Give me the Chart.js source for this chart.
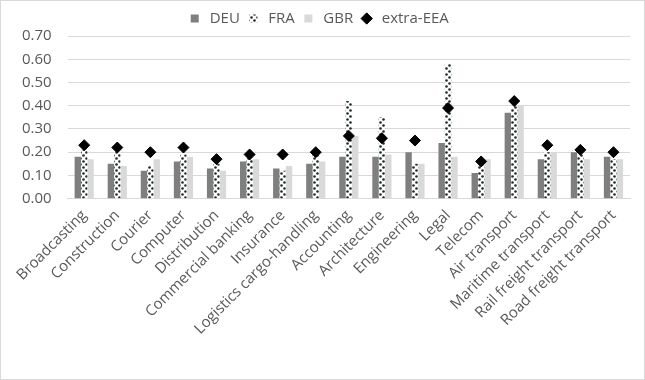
<!DOCTYPE html>
<html>
<head>
<meta charset="utf-8">
<script src="https://cdn.jsdelivr.net/npm/chart.js@4"></script>
<style>
  html, body { margin: 0; padding: 0; background: #fff; }
  #wrap { width: 645px; height: 380px; box-sizing: border-box; border: 1px solid #d9d9d9; }
  canvas { display: block; }
</style>
</head>
<body>
<div id="wrap"><canvas id="chart" width="643" height="378"></canvas></div>
<script>
const categories = ['Broadcasting', 'Construction', 'Courier', 'Computer', 'Distribution', 'Commercial banking',
    'Insurance', 'Logistics cargo-handling', 'Accounting', 'Architecture', 'Engineering', 'Legal', 'Telecom',
    'Air transport', 'Maritime transport', 'Rail freight transport', 'Road freight transport'];

const deu = [0.18, 0.15, 0.12, 0.16, 0.13, 0.16, 0.13, 0.15, 0.18, 0.18, 0.20, 0.24, 0.11, 0.37, 0.17, 0.20, 0.18];
const fra = [0.21, 0.20, 0.14, 0.19, 0.15, 0.18, 0.12, 0.19, 0.42, 0.35, 0.15, 0.58, 0.15, 0.40, 0.20, 0.19, 0.17];
const gbr = [0.17, 0.14, 0.17, 0.18, 0.12, 0.17, 0.14, 0.16, 0.27, 0.19, 0.15, 0.18, 0.17, 0.40, 0.20, 0.17, 0.17];
const extraEea = [0.23, 0.22, 0.20, 0.22, 0.17, 0.19, 0.19, 0.20, 0.27, 0.26, 0.25, 0.39, 0.16, 0.42, 0.23, 0.21, 0.20];

const yTicks = [0, 0.1, 0.2, 0.3, 0.4, 0.5, 0.6, 0.7];

// dotted fill for FRA
function dotPattern() {
    let c = document.createElement('canvas');
    c.width = 6;
    c.height = 6;
    let g = c.getContext('2d');
    g.fillStyle = '#ffffff';
    g.fillRect(0, 0, 6, 6);
    g.fillStyle = '#1d2b2e';
    g.beginPath();
    g.arc(1.5, 1.5, 1.3, 0, Math.PI * 2);
    g.fill();
    g.beginPath();
    g.arc(4.5, 4.5, 1.3, 0, Math.PI * 2);
    g.fill();
    return g.createPattern(c, 'repeat');
}

const font = { family: 'Open Sans', size: 15 };

document.addEventListener('DOMContentLoaded', function () {
    let canvas = document.getElementById('chart');
    let context = canvas.getContext('2d');
    let fraFill = dotPattern();

    new Chart(context, {
        data: {
            labels: categories,
            datasets: [
                { type: 'bar', label: 'DEU', data: deu, backgroundColor: '#7f7f7f', pointStyle: 'rect', order: 1 },
                { type: 'bar', label: 'FRA', data: fra, backgroundColor: fraFill, pointStyle: 'rect', order: 1 },
                { type: 'bar', label: 'GBR', data: gbr, backgroundColor: '#d9d9d9', pointStyle: 'rect', order: 1 },
                {
                    type: 'line', label: 'extra-EEA', data: extraEea, showLine: false,
                    pointStyle: 'rectRot', pointRadius: 5.5, pointBackgroundColor: '#000', pointBorderColor: '#000',
                    backgroundColor: '#000', borderColor: '#000', order: 0
                }
            ]
        },
        options: {
            responsive: false,
            animation: false,
            devicePixelRatio: 1,
            layout: { padding: { left: 5, right: 14, top: 4, bottom: 41 } },
            datasets: {
                bar: { categoryPercentage: 0.58, barPercentage: 1 }
            },
            plugins: {
                tooltip: { enabled: false },
                legend: {
                    position: 'top',
                    labels: {
                        usePointStyle: true,
                        boxHeight: 8,
                        padding: 6,
                        color: '#595959',
                        font: font,
                        sort: function (a, b) { return a.datasetIndex - b.datasetIndex; }
                    }
                }
            },
            scales: {
                x: {
                    grid: { display: false },
                    border: { color: '#d9d9d9' },
                    ticks: {
                        autoSkip: false,
                        maxRotation: 45,
                        minRotation: 45,
                        color: '#595959',
                        font: font,
                        padding: 0
                    }
                },
                y: {
                    min: 0,
                    max: 0.7,
                    border: { display: false },
                    grid: { color: '#d9d9d9', drawTicks: false },
                    afterBuildTicks: function (axis) {
                        axis.ticks = yTicks.map(function (v) { return { value: v }; });
                    },
                    ticks: {
                        color: '#595959',
                        font: font,
                        padding: 16,
                        callback: function (v) { return Number(v).toFixed(2); }
                    }
                }
            }
        }
    });
});
</script>
</body>
</html>
